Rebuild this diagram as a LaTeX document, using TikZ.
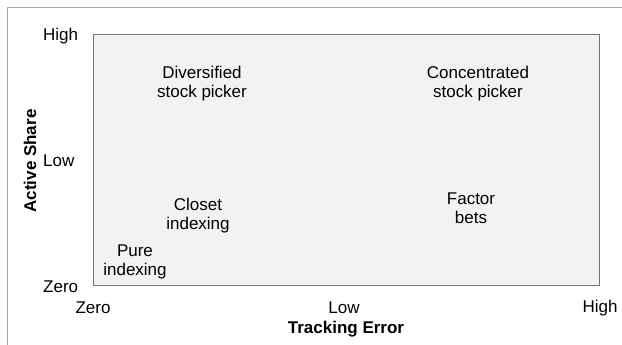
\documentclass[tikz,border=0pt]{standalone}
\usepackage{fontspec}
\setmainfont{Liberation Sans}
\usetikzlibrary{positioning}
\colorlet{PlotFill}{black!5}
\colorlet{PlotLine}{black!55}
\colorlet{FrameLine}{black!35}

\begin{document}
\begin{tikzpicture}[
    x=1pt, y=-1pt,
    quadrant/.style={
        font=\fontsize{17}{19}\selectfont, align=center, inner sep=0pt
    },
    ticklbl/.style={font=\fontsize{17}{19}\selectfont, inner sep=0pt},
    axistitle/.style={font=\fontsize{17}{19}\selectfont\bfseries, inner sep=0pt}
]
\useasboundingbox (0,0) rectangle (622,345);

% ===================================================================
% FRAME AND PLOT AREA
% ===================================================================
\draw[FrameLine, line width=1pt] (7,345) -- (7,8) -- (622,8);
\node[draw=PlotLine, fill=PlotFill, line width=1.2pt, inner sep=0pt,
      minimum width=506pt, minimum height=251pt, anchor=north west]
    (plot) at (93,34) {};

% ===================================================================
% AXIS LABELS
% ===================================================================
\node[ticklbl, anchor=west] (yhigh) at (43,36) {High};
\node[ticklbl, anchor=west] (ylow)  at (43,161) {Low};
\node[ticklbl, anchor=west] (yzero) at (43,287) {Zero};
\node[axistitle, rotate=90] (ytitle) at (30,161) {Active Share};

\node[ticklbl] (xzero) at (93,308) {Zero};
\node[ticklbl] (xlow)  at (344,308) {Low};
\node[ticklbl] (xhigh) at (600,308) {High};
\node[axistitle] (xtitle) at (346,329) {Tracking Error};

% ===================================================================
% STRATEGIES
% ===================================================================
\node[quadrant] (divers) at (202,84) {Diversified\\stock picker};
\node[quadrant] (concen) at (478,84) {Concentrated\\stock picker};
\node[quadrant] (closet) at (198,216) {Closet\\indexing};
\node[quadrant] (factor) at (471,208) {Factor\\bets};
\node[quadrant] (pure)   at (135,262) {Pure\\indexing};

\end{tikzpicture}
\end{document}
